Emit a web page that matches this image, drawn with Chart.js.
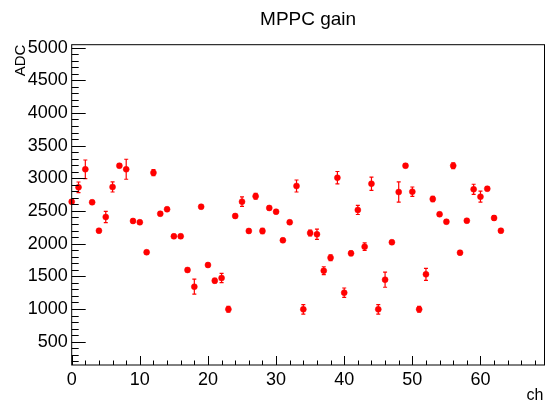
<!DOCTYPE html>
<html>
<head>
<meta charset="utf-8">
<script src="https://cdn.jsdelivr.net/npm/chart.js@4.4.1/dist/chart.umd.min.js"></script>
<style>
  html, body { margin: 0; padding: 0; background: #fff; }
  canvas { display: block; }
</style>
</head>
<body>
<canvas id="gain" width="548" height="403"></canvas>
<script>
// MPPC gain per channel
const channels = [
   0,  1,  2,  3,  4,  5,  6,  7,  8,  9, 10, 11, 12, 13, 14, 15,
  16, 17, 18, 19, 20, 21, 22, 23, 24, 25, 26, 27, 28, 29, 30, 31,
  32, 33, 34, 35, 36, 37, 38, 39, 40, 41, 42, 43, 44, 45, 46, 47,
  48, 49, 50, 51, 52, 53, 54, 55, 56, 57, 58, 59, 60, 61, 62, 63
];
const gain = [
  2642, 2862, 3138, 2633, 2198, 2408, 2867, 3193, 3138, 2347, 2327, 1868, 3086, 2458, 2526, 2112,
  2112, 1597, 1341, 2565, 1673, 1433, 1474,  995, 2423, 2642, 2194, 2725, 2194, 2546, 2489, 2051,
  2327, 2882,  995, 2163, 2143, 1586, 1785, 3009, 1249, 1852, 2515, 1953, 2917,  995, 1448, 2021,
  2790, 3193, 2795,  995, 1531, 2683, 2449, 2336, 3193, 1862, 2351, 2832, 2718, 2841, 2393, 2198
];
const gainErr = [
    30,   81,  142,   30,   30,   87,   77,   30,  153,   30,   30,   30,   45,   30,   30,   30,
    30,   30,  115,   30,   30,   35,   72,   45,   30,   72,   30,   45,   40,   30,   30,   30,
    30,   92,   73,   45,   78,   60,   45,   95,   72,   35,   69,   58,  102,   73,  115,   30,
   155,   30,   72,   45,   92,   40,   30,   30,   45,   30,   30,   77,   84,   30,   35,   30
];
const xTickLabels = [0, 10, 20, 30, 40, 50, 60];
const yTickLabels = [500, 1000, 1500, 2000, 2500, 3000, 3500, 4000, 4500, 5000];

const FONT = '"Liberation Sans", Arial, Helvetica, sans-serif';

// ROOT style frame, inward ticks, error bars and titles
const rootStyle = {
  id: 'rootStyle',
  beforeDatasetsDraw(chart) {
    const { ctx, scales: { x, y } } = chart;
    ctx.save();
    ctx.strokeStyle = '#ff0000';
    ctx.lineWidth = 1.2;
    gain.forEach((v, i) => {
      const px = x.getPixelForValue(channels[i]);
      const top = y.getPixelForValue(v + gainErr[i]);
      const bot = y.getPixelForValue(v - gainErr[i]);
      ctx.beginPath();
      ctx.moveTo(px, top); ctx.lineTo(px, bot);
      ctx.moveTo(px - 2, top); ctx.lineTo(px + 2, top);
      ctx.moveTo(px - 2, bot); ctx.lineTo(px + 2, bot);
      ctx.stroke();
    });
    ctx.restore();
  },
  afterDraw(chart) {
    const { ctx, chartArea: a, scales: { x, y } } = chart;
    ctx.save();
    ctx.strokeStyle = '#000';
    ctx.lineWidth = 1;
    ctx.strokeRect(a.left, a.top, a.right - a.left, a.bottom - a.top);

    ctx.beginPath();
    // y ticks every 100, major every 500
    for (let v = 200; v <= y.max; v += 100) {
      const py = Math.round(y.getPixelForValue(v)) + 0.5;
      const len = v % 500 === 0 ? 14 : 7;
      ctx.moveTo(a.left, py); ctx.lineTo(a.left + len, py);
    }
    // x ticks every 2, major every 10
    for (let v = 0; v <= x.max; v += 2) {
      const px = Math.round(x.getPixelForValue(v)) + 0.5;
      const len = v % 10 === 0 ? 9 : 4.5;
      ctx.moveTo(px, a.bottom); ctx.lineTo(px, a.bottom - len);
    }
    ctx.stroke();

    ctx.fillStyle = '#000';
    ctx.font = '19px ' + FONT;
    ctx.textAlign = 'center';
    ctx.textBaseline = 'alphabetic';
    ctx.fillText('MPPC gain', (a.left + a.right) / 2, 25);

    ctx.font = '16px ' + FONT;
    ctx.textAlign = 'right';
    ctx.fillText('ch', a.right - 1, 400);

    ctx.translate(25, a.top);
    ctx.rotate(-Math.PI / 2);
    ctx.font = '15px ' + FONT;
    ctx.textAlign = 'right';
    ctx.fillText('ADC', 0, 0);
    ctx.restore();
  }
};

new Chart(document.getElementById('gain'), {
  type: 'scatter',
  data: {
    datasets: [{
      data: channels.map((c, i) => ({ x: c, y: gain[i] })),
      backgroundColor: '#ff0000',
      borderColor: '#ff0000',
      borderWidth: 0.5,
      pointRadius: 3,
      pointHoverRadius: 3,
      clip: false
    }]
  },
  options: {
    responsive: false,
    animation: false,
    layout: { padding: { top: 44.7, right: 2, left: 0, bottom: 0 } },
    plugins: { legend: { display: false }, tooltip: { enabled: false }, title: { display: false } },
    scales: {
      x: {
        type: 'linear',
        min: 0,
        max: 69.4,
        grid: { display: false, drawTicks: false },
        border: { display: false },
        afterFit(scale) { scale.height = 38; },
        afterBuildTicks(scale) { scale.ticks = xTickLabels.map(v => ({ value: v })); },
        ticks: {
          padding: 4,
          maxRotation: 0,
          autoSkip: false,
          color: '#000',
          font: { family: FONT, size: 18 },
          callback: v => String(v)
        }
      },
      y: {
        type: 'linear',
        min: 143,
        max: 5044,
        grid: { display: false, drawTicks: false },
        border: { display: false },
        afterFit(scale) { scale.width = 71.7; },
        afterBuildTicks(scale) { scale.ticks = yTickLabels.map(v => ({ value: v })); },
        ticks: {
          padding: 4,
          autoSkip: false,
          color: '#000',
          font: { family: FONT, size: 18 },
          callback: v => String(v)
        }
      }
    }
  },
  plugins: [rootStyle]
});
</script>
</body>
</html>
